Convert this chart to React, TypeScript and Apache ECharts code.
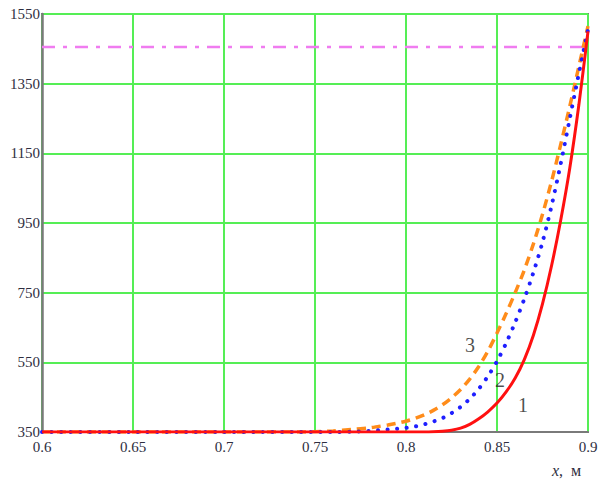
import React, { useEffect, useRef } from "react";
import * as echarts from "echarts";

// Curve 1 (solid red)
const xRed = [0.6, 0.65, 0.7, 0.75, 0.78, 0.8, 0.81, 0.815, 0.82, 0.825, 0.83, 0.835, 0.84, 0.845, 0.85, 0.855, 0.86, 0.865, 0.87, 0.875, 0.88, 0.885, 0.89, 0.895, 0.9];
const yRed = [350, 350, 350, 350, 350, 350, 350, 350.5, 352, 355, 361, 372, 388, 408, 433, 465, 505, 558, 628, 718, 828, 958, 1108, 1290, 1500];

// Curve 2 (dotted blue)
const xBlue = [0.6, 0.65, 0.7, 0.72, 0.74, 0.76, 0.77, 0.78, 0.785, 0.79, 0.795, 0.8, 0.805, 0.81, 0.815, 0.82, 0.825, 0.83, 0.835, 0.84, 0.845, 0.85, 0.855, 0.86, 0.865, 0.87, 0.875, 0.88, 0.885, 0.89, 0.895, 0.9];
const yBlue = [350, 350, 350, 350, 350, 350, 351, 353, 355, 357, 359, 362, 366, 372, 380, 390, 404, 422, 445, 474, 510, 553, 605, 665, 732, 808, 895, 1000, 1120, 1250, 1380, 1505];

// Curve 3 (dashed orange)
const xOrange = [0.6, 0.65, 0.7, 0.72, 0.74, 0.75, 0.76, 0.77, 0.78, 0.785, 0.79, 0.795, 0.8, 0.805, 0.81, 0.815, 0.82, 0.825, 0.83, 0.835, 0.84, 0.845, 0.85, 0.855, 0.86, 0.865, 0.87, 0.875, 0.88, 0.885, 0.89, 0.895, 0.9];
const yOrange = [350, 350, 350, 350, 350, 351, 353, 357, 362, 366, 370, 375, 381, 389, 399, 412, 428, 448, 472, 502, 538, 582, 634, 690, 750, 815, 890, 975, 1070, 1175, 1285, 1400, 1515];

// Horizontal reference level (dash-dot magenta)
const refLevel = 1455;
const refRange = [0.6, 0.9];

// Curve numbers placed next to their curves
const curveLabels: [number, number, string][] = [
  [0.8643, 427, "1"],
  [0.8516, 499, "2"],
  [0.8352, 600, "3"],
];

const xMin = 0.6;
const xMax = 0.9;
const xStep = 0.05;
const yMin = 350;
const yMax = 1550;
const yStep = 200;

const zip = (xs: number[], ys: number[]) => xs.map((x, i) => [x, ys[i]]);

export default function App() {
  const ref = useRef<HTMLDivElement>(null);

  useEffect(() => {
    if (!ref.current) return;
    const chart = echarts.init(ref.current, undefined, { renderer: "svg" });
    const serif = "'Liberation Serif', 'DejaVu Serif', serif";
    const textColor = "#2e2e40";
    chart.setOption({
      animation: false,
      backgroundColor: "#ffffff",
      grid: {
        left: 42,
        right: 13,
        top: 14,
        bottom: 51,
        show: true,
        borderColor: "#7a7a7a",
        borderWidth: 2,
      },
      xAxis: {
        type: "value",
        min: xMin,
        max: xMax,
        interval: xStep,
        axisLine: { show: true, lineStyle: { color: "#7a7a7a", width: 2 } },
        axisTick: { show: false },
        axisLabel: {
          color: textColor,
          fontFamily: serif,
          fontSize: 15,
          margin: 7,
          formatter: (v: number) => String(+v.toFixed(2)),
        },
        splitLine: { show: true, lineStyle: { color: "#55ee55", width: 2 } },
      },
      yAxis: {
        type: "value",
        min: yMin,
        max: yMax,
        interval: yStep,
        axisLine: { show: true, lineStyle: { color: "#7a7a7a", width: 2.5 } },
        axisTick: { show: false },
        axisLabel: {
          color: textColor,
          fontFamily: serif,
          fontSize: 15,
          margin: 2,
          formatter: (v: number) => String(Math.round(v)),
        },
        splitLine: { show: true, lineStyle: { color: "#55ee55", width: 2 } },
      },
      graphic: [
        {
          type: "text",
          left: 552,
          top: 462,
          style: {
            text: "{i|x},  м",
            fontFamily: serif,
            fontSize: 16,
            fill: textColor,
            rich: {
              i: { fontStyle: "italic", fontFamily: serif, fontSize: 16, fill: textColor },
            },
          },
        },
      ],
      series: [
        {
          type: "line",
          data: refRange.map((x) => [x, refLevel]),
          symbol: "none",
          lineStyle: { color: "#f07cf0", width: 2.5, type: [13, 8, 4, 8] },
          z: 3,
        },
        {
          type: "line",
          data: zip(xOrange, yOrange),
          symbol: "none",
          smooth: 0.3,
          lineStyle: { color: "#ff8c1a", width: 3.5, type: [9, 6] },
          z: 4,
        },
        {
          type: "line",
          data: zip(xBlue, yBlue),
          symbol: "none",
          smooth: 0.3,
          lineStyle: { color: "#1f1fff", width: 4, type: [0.1, 9.5], cap: "round" },
          z: 5,
        },
        {
          type: "line",
          data: zip(xRed, yRed),
          symbol: "none",
          smooth: 0.3,
          lineStyle: { color: "#ff1010", width: 3 },
          z: 6,
        },
        {
          type: "scatter",
          data: curveLabels,
          symbolSize: 0,
          silent: true,
          label: {
            show: true,
            position: "inside",
            formatter: (p: any) => p.value[2],
            fontFamily: serif,
            fontSize: 20,
            color: "#1e1e1e",
          },
          z: 7,
        },
      ],
    });
    return () => chart.dispose();
  }, []);

  return (
    <div
      ref={ref}
      style={{ position: "absolute", left: 0, top: 0, width: 601, height: 483, background: "#fff" }}
    />
  );
}
